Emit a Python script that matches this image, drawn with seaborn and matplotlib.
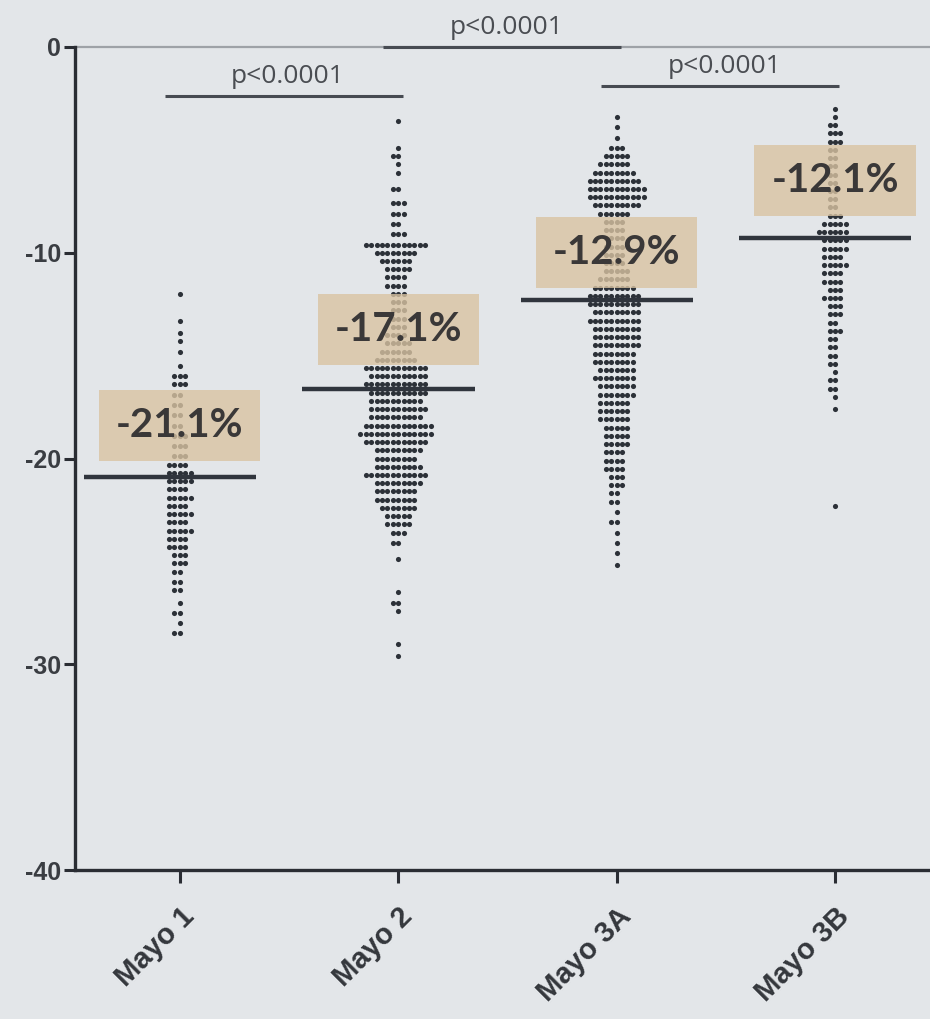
import numpy as np
import pandas as pd
import seaborn as sns
import matplotlib.pyplot as plt

# ---- data -------------------------------------------------------------
groups = ["Mayo 1", "Mayo 2", "Mayo 3A", "Mayo 3B"]

# each group: observed change levels (%) and how many subjects share that level
mayo1_levels = [-12.0, -13.3, -13.9, -14.3, -14.8, -15.5, -16.0, -16.4, -16.9, -17.4,
                -17.9, -18.4, -18.9, -19.4, -19.9, -20.3, -20.7, -21.1, -21.5, -21.9,
                -22.3, -22.7, -23.1, -23.5, -23.9, -24.3, -24.7, -25.1, -25.5, -26.0,
                -26.4, -27.0, -27.5, -28.0, -28.5]
mayo1_counts = [1, 1, 1, 1, 1, 1, 3, 3, 2, 2,
                2, 2, 3, 3, 3, 4, 5, 5, 4, 5,
                4, 5, 4, 5, 4, 4, 3, 3, 2, 2,
                2, 1, 2, 1, 2]

mayo2_levels = [-3.6, -4.9, -5.3, -5.7, -6.1, -6.9, -7.6, -8.1, -8.6, -9.1,
                -9.6, -10.0, -10.4, -10.8, -11.2, -11.6, -12.0, -12.4, -12.8, -13.2,
                -13.6, -14.0, -14.4, -14.8, -15.2, -15.6, -16.0, -16.4, -16.8, -17.2,
                -17.6, -18.0, -18.4, -18.8, -19.2, -19.6, -20.0, -20.4, -20.8, -21.2,
                -21.6, -22.0, -22.4, -22.8, -23.2, -23.6, -24.1, -24.9, -26.5, -27.0,
                -27.4, -29.0, -29.6]
mayo2_counts = [1, 1, 2, 1, 1, 2, 3, 3, 2, 3,
                12, 8, 6, 5, 4, 4, 3, 3, 3, 3,
                3, 4, 5, 6, 8, 12, 11, 12, 11, 10,
                11, 10, 13, 14, 12, 9, 8, 9, 12, 9,
                8, 8, 7, 5, 5, 3, 2, 1, 1, 2,
                1, 1, 1]

mayo3a_levels = [-3.4, -3.9, -4.4, -4.9, -5.3, -5.7, -6.1, -6.5, -6.9, -7.3,
                 -7.7, -8.1, -8.5, -8.9, -9.3, -9.7, -10.1, -10.5, -10.9, -11.3,
                 -11.7, -12.1, -12.5, -12.9, -13.3, -13.7, -14.1, -14.5, -14.9, -15.3,
                 -15.7, -16.1, -16.5, -16.9, -17.3, -17.7, -18.1, -18.5, -18.9, -19.3,
                 -19.7, -20.1, -20.5, -20.9, -21.3, -21.7, -22.1, -22.6, -23.1, -23.6,
                 -24.1, -24.6, -25.2]
mayo3a_counts = [1, 1, 1, 3, 5, 6, 8, 10, 11, 11,
                 9, 6, 4, 4, 4, 4, 4, 4, 5, 6,
                 8, 10, 10, 9, 10, 9, 9, 9, 8, 8,
                 7, 8, 7, 7, 6, 6, 6, 5, 5, 5,
                 4, 4, 4, 3, 3, 2, 2, 1, 2, 1,
                 1, 1, 1]

mayo3b_levels = [-3.0, -3.4, -3.8, -4.2, -4.6, -5.0, -5.4, -5.8, -6.2, -6.6,
                 -7.0, -7.4, -7.8, -8.2, -8.6, -9.0, -9.4, -9.8, -10.2, -10.6,
                 -11.0, -11.4, -11.8, -12.2, -12.6, -13.0, -13.4, -13.8, -14.2, -14.6,
                 -15.0, -15.4, -15.8, -16.2, -16.6, -17.0, -17.6, -22.3]
mayo3b_counts = [1, 1, 2, 3, 3, 2, 2, 2, 2, 2,
                 2, 2, 2, 3, 5, 6, 5, 5, 4, 5,
                 4, 4, 3, 4, 3, 3, 2, 3, 2, 2,
                 2, 2, 1, 2, 2, 1, 1, 1]

# horizontal centre line drawn through each group
center_lines = [-20.9, -16.6, -12.3, -9.3]
# annotated mean change per group
label_values = [-21.1, -17.1, -12.9, -12.1]

# pairwise comparisons: (group a, group b, text)
comparisons = [("Mayo 1", "Mayo 2", "p<0.0001"),
               ("Mayo 2", "Mayo 3A", "p<0.0001"),
               ("Mayo 3A", "Mayo 3B", "p<0.0001")]

y_ticks = [0, -10, -20, -30, -40]

# ---- tidy frame -------------------------------------------------------
level_sets = [mayo1_levels, mayo2_levels, mayo3a_levels, mayo3b_levels]
count_sets = [mayo1_counts, mayo2_counts, mayo3a_counts, mayo3b_counts]
frames = []
for g, lv, ct in zip(groups, level_sets, count_sets):
    frames.append(pd.DataFrame({"group": g, "change": np.repeat(lv, ct)}))
df = pd.concat(frames, ignore_index=True)

# ---- styling ----------------------------------------------------------
bg = "#e3e6e9"
ink = "#2c3138"
sns.set_theme(style="white")
plt.rcParams["font.family"] = ["Liberation Sans", "DejaVu Sans"]

W, H = 930, 1019
fig = plt.figure(figsize=(W / 100, H / 100), dpi=100, facecolor=bg)
ax = fig.add_axes([75 / W, 1 - 870 / H, 1 - 75 / W, (870 - 47) / H])
ax.set_facecolor(bg)

sns.swarmplot(data=df, x="group", y="change", order=groups, color=ink,
              size=3.7, linewidth=0, ax=ax, warn_thresh=1.0)

ax.set_xlim(-0.48, 3.435)
ax.set_ylim(-40, 0)

# centre lines
for i, v in enumerate(center_lines):
    ax.hlines(v, i - 0.44, i + 0.35, color="#30353d", lw=3.2, zorder=4)

# value labels on tan boxes
label_y = [-18.4, -13.75, -10.0, -6.5]
for i, (v, ly) in enumerate(zip(label_values, label_y)):
    ax.text(i, ly, f"{v:.1f}%", ha="center", va="center", fontsize=29,
            fontweight="bold", family=["Lato", "DejaVu Sans"], color="#3a3838",
            zorder=6,
            bbox=dict(boxstyle="square,pad=0.42", fc="#d9c3a2", ec="none",
                      alpha=0.8))

# reference line at zero
ax.axhline(0, color="#9ea2a7", lw=1.6, clip_on=False, zorder=1)

# comparison brackets
bracket_y = [-2.38, 0.0, -1.9]
for (a, b, txt), by in zip(comparisons, bracket_y):
    xa, xb = groups.index(a) - 0.07, groups.index(b) + 0.02
    ax.plot([xa, xb], [by, by], color="#474b52", lw=2.2, clip_on=False,
            solid_capstyle="butt", zorder=5)
    ax.annotate(txt, xy=((xa + xb) / 2 + 0.02, by), xytext=(0, 5),
                textcoords="offset points", ha="center", va="bottom",
                fontsize=19, color="#4a4d52", annotation_clip=False,
                family=["Open Sans", "DejaVu Sans"])

# axes
for side in ["top", "right"]:
    ax.spines[side].set_visible(False)
for side in ["left", "bottom"]:
    ax.spines[side].set_color("#2a2d33")
    ax.spines[side].set_linewidth(2.4)

ax.set_yticks(y_ticks)
ax.set_yticklabels([str(t) for t in y_ticks], fontsize=18, fontweight="bold",
                   color="#3a3d42")
ax.tick_params(axis="y", direction="out", length=8, width=2.2, color="#2a2d33",
               pad=2, left=True)
ax.tick_params(axis="x", direction="out", length=9, width=2.2, color="#2a2d33",
               pad=14, bottom=True)
ax.set_xticks(range(len(groups)))
ax.set_xticklabels(groups, rotation=45, ha="right", rotation_mode="anchor",
                   fontsize=21, fontweight="bold", color="#34373c")
ax.set_xlabel("")
ax.set_ylabel("")

fig.savefig("out.png", dpi=100, facecolor=bg)
